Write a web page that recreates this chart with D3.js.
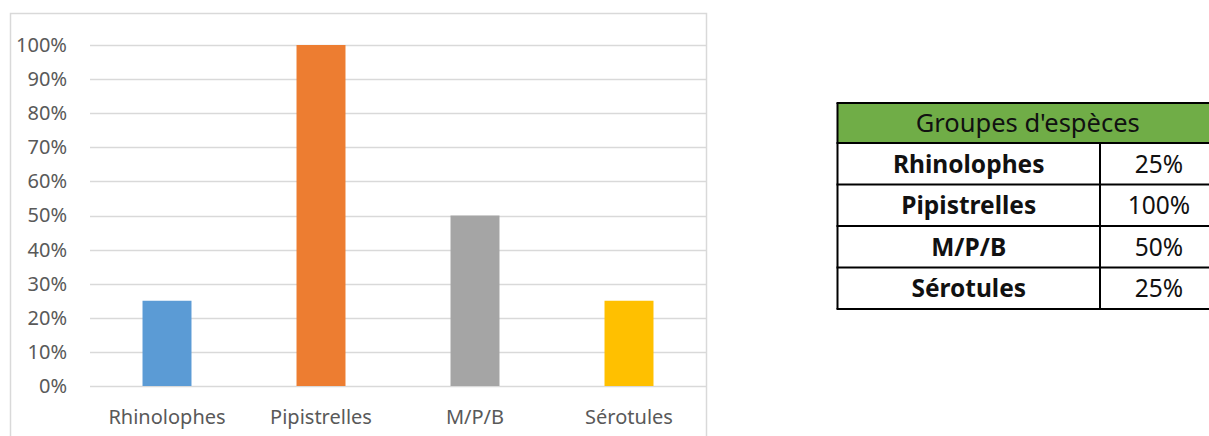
<!DOCTYPE html>
<html>
<head>
<meta charset="utf-8">
<script src="https://cdn.jsdelivr.net/npm/d3@7/dist/d3.min.js"></script>
<style>
  html, body { margin: 0; padding: 0; background: #ffffff; }
  svg { display: block; }
</style>
</head>
<body>
<svg id="chart" width="1209" height="436"></svg>
<script>
const categories = ["Rhinolophes", "Pipistrelles", "M/P/B", "Sérotules"];
const values = [0.25, 1.00, 0.50, 0.25];
const barColors = ["#5b9bd5", "#ed7d31", "#a5a5a5", "#ffc000"];
const yTicks = [0, 0.1, 0.2, 0.3, 0.4, 0.5, 0.6, 0.7, 0.8, 0.9, 1.0];
const tableTitle = "Groupes d'espèces";

const svg = d3.select("#chart");
const W = 1209, H = 436;
svg.append("rect").attr("width", W).attr("height", H).attr("fill", "#ffffff");

// chart frame
svg.append("rect")
  .attr("x", 10.5).attr("y", 13.5)
  .attr("width", 696).attr("height", 440)
  .attr("fill", "none").attr("stroke", "#d9d9d9").attr("stroke-width", 1.5);

const plot = { left: 90, right: 706, top: 45, bottom: 386 };
const x = d3.scaleBand().domain(categories)
  .range([plot.left, plot.right]).paddingInner(0.682).paddingOuter(0.341);
const y = d3.scaleLinear().domain([0, 1]).range([plot.bottom, plot.top]);

const font = "'Noto Sans', 'Open Sans', sans-serif";

// gridlines
svg.append("g").selectAll("line").data(yTicks).join("line")
  .attr("x1", plot.left).attr("x2", plot.right)
  .attr("y1", d => Math.round(y(d)) + 0.5).attr("y2", d => Math.round(y(d)) + 0.5)
  .attr("stroke", "#d9d9d9").attr("stroke-width", 1.3);

// y axis labels via d3 axis
const yAxis = d3.axisLeft(y).tickValues(yTicks).tickFormat(d3.format(".0%")).tickSize(0).tickPadding(0);
const gy = svg.append("g").attr("transform", `translate(67,0)`).call(yAxis);
gy.select(".domain").remove();
gy.selectAll("text").attr("font-family", font).attr("font-size", 20).attr("fill", "#595959");

// bars
svg.append("g").selectAll("rect").data(values).join("rect")
  .attr("x", (d, i) => x(categories[i]))
  .attr("width", x.bandwidth())
  .attr("y", d => y(d))
  .attr("height", d => y(0) - y(d))
  .attr("fill", (d, i) => barColors[i]);

// x axis labels
const xAxis = d3.axisBottom(x).tickSize(0).tickPadding(0);
const gx = svg.append("g").attr("transform", `translate(0,${plot.bottom})`).call(xAxis);
gx.select(".domain").remove();
gx.selectAll("text").attr("font-family", font).attr("font-size", 20).attr("fill", "#595959")
  .attr("dy", null).attr("y", 38);

// table
const tbl = { left: 837.5, right: 1218, mid: 1100, top: 103, headerH: 40, rowH: 41.5 };
const tg = svg.append("g");
tg.append("rect").attr("x", tbl.left).attr("y", tbl.top)
  .attr("width", tbl.right - tbl.left).attr("height", tbl.headerH)
  .attr("fill", "#70ad47");
tg.append("text").attr("x", (tbl.left + tbl.right) / 2).attr("y", tbl.top + tbl.headerH / 2 + 9)
  .attr("text-anchor", "middle").attr("font-family", font).attr("font-size", 25.5)
  .attr("fill", "#111").text(tableTitle);

const rowTop = i => tbl.top + tbl.headerH + i * tbl.rowH;
const rows = tg.selectAll("g.row").data(categories).join("g").attr("class", "row");
rows.append("text")
  .attr("x", (tbl.left + tbl.mid) / 2)
  .attr("y", (d, i) => rowTop(i) + tbl.rowH / 2 + 9)
  .attr("text-anchor", "middle").attr("font-family", font).attr("font-weight", "bold")
  .attr("font-size", 24.5).attr("fill", "#111").text(d => d);
rows.append("text")
  .attr("x", (tbl.mid + tbl.right) / 2)
  .attr("y", (d, i) => rowTop(i) + tbl.rowH / 2 + 9)
  .attr("text-anchor", "middle").attr("font-family", font)
  .attr("font-size", 24.5).attr("fill", "#111").text((d, i) => d3.format(".0%")(values[i]));

// table lines
const bottom = rowTop(categories.length);
const hLines = d3.range(categories.length + 2).map(i => i === 0 ? tbl.top : rowTop(i - 1));
tg.selectAll("line.h").data(hLines).join("line").attr("class", "h")
  .attr("x1", tbl.left - 1).attr("x2", tbl.right + 1)
  .attr("y1", d => d).attr("y2", d => d)
  .attr("stroke", "#000").attr("stroke-width", 2);
tg.append("line").attr("x1", tbl.left).attr("x2", tbl.left)
  .attr("y1", tbl.top).attr("y2", bottom).attr("stroke", "#000").attr("stroke-width", 2);
tg.append("line").attr("x1", tbl.right).attr("x2", tbl.right)
  .attr("y1", tbl.top).attr("y2", bottom).attr("stroke", "#000").attr("stroke-width", 2);
tg.append("line").attr("x1", tbl.mid).attr("x2", tbl.mid)
  .attr("y1", rowTop(0)).attr("y2", bottom).attr("stroke", "#000").attr("stroke-width", 2);
</script>
</body>
</html>
